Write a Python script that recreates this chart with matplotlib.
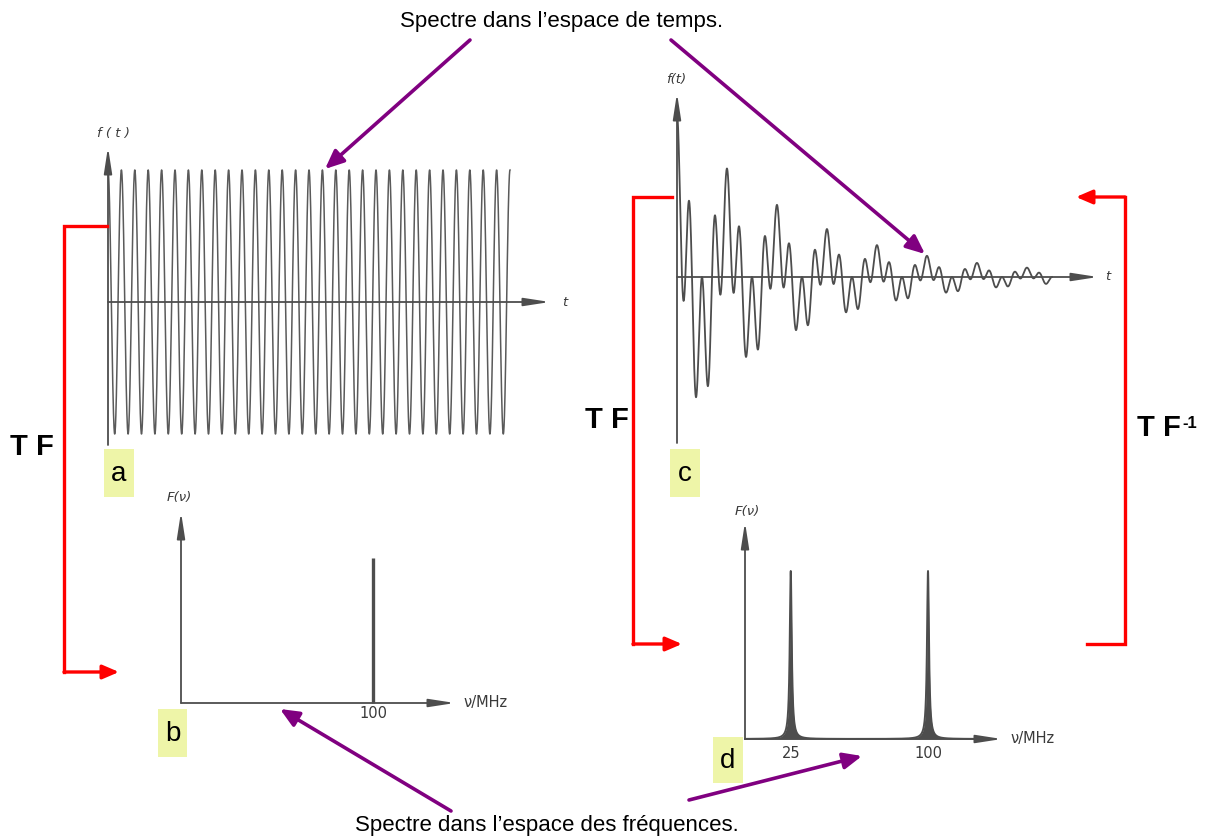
import numpy as np
import matplotlib

matplotlib.use("Agg")

from matplotlib import pyplot as plt
from matplotlib.patches import Rectangle

# --- data ------------------------------------------------------------------
time_span_us = 0.3                  # both time signals stop at ~0.3 us
freqs_a_mhz = [100]                 # panel a: single pure cosine
amps_a = [1.0]
freqs_c_mhz = [25, 100]             # panel c: two damped cosines
amps_c = [1.0, 1.0]
decay_c_us = 0.098                  # envelope time constant of panel c

lines_b_mhz = [100]                 # panel b: one sharp line
lines_b_height = [1.0]
lines_d_mhz = [25, 100]             # panel d: two narrow peaks
lines_d_height = [1.0, 1.0]
lines_d_fwhm_mhz = 1.3

ticks_b = [100]
ticks_d = [25, 100]

W, H = 1210, 839
GREY = "#4d4d4d"
RED = "#ff0000"
PURPLE = "#800080"
LABEL_BG = "#eef5a8"

plt.rcParams["font.family"] = ["Liberation Sans", "DejaVu Sans"]

fig = plt.figure(figsize=(W / 100, H / 100), dpi=100)
fig.patch.set_facecolor("white")


def px_axes(left, top, right, bottom):
    ax = fig.add_axes([left / W, 1 - bottom / H, (right - left) / W, (bottom - top) / H])
    ax.set_axis_off()
    return ax


def axis_arrow(ax, start, end):
    ax.annotate("", xy=end, xytext=start,
                arrowprops=dict(arrowstyle="-|>,head_length=1.3,head_width=0.2",
                                color=GREY, lw=1.3, shrinkA=0, shrinkB=0, mutation_scale=12))


def small(ax, x, y, s, **kw):
    kw.setdefault("color", "#3a3a3a")
    kw.setdefault("fontsize", 10.5)
    kw.setdefault("family", "DejaVu Sans")
    ax.text(x, y, s, **kw)


# --- panel a: continuous cosine ---------------------------------------------
ax_a = px_axes(98, 125, 575, 455)
px_us_a = 1340.0
px_unit_a = 132.0
ax_a.set_xlim((98 - 108) / px_us_a, (575 - 108) / px_us_a)
ax_a.set_ylim(-(455 - 302) / px_unit_a, (302 - 125) / px_unit_a)
t_a = np.linspace(0, time_span_us, 6000)
f_a = sum(a * np.cos(2 * np.pi * f * t_a) for f, a in zip(freqs_a_mhz, amps_a))
ax_a.plot(t_a, f_a, color="#5a5a5a", lw=1.1)
axis_arrow(ax_a, (0, -(445 - 302) / px_unit_a), (0, (302 - 147) / px_unit_a))
axis_arrow(ax_a, (0, 0), ((550 - 108) / px_us_a, 0))
small(ax_a, 0.004, (302 - 134) / px_unit_a, "f ( t )", style="italic", ha="center", va="center", fontsize=9.5)
small(ax_a, (565 - 108) / px_us_a, 0, "t", style="italic", ha="center", va="center", fontsize=9.5)

# --- panel c: damped two-frequency signal -----------------------------------
ax_c = px_axes(655, 70, 1118, 450)
px_us_c = 1250.0
px_unit_c = 81.6
ax_c.set_xlim((655 - 677) / px_us_c, (1118 - 677) / px_us_c)
ax_c.set_ylim(-(450 - 277) / px_unit_c, (277 - 70) / px_unit_c)
t_c = np.linspace(0, time_span_us, 6000)
f_c = np.exp(-t_c / decay_c_us) * sum(a * np.cos(2 * np.pi * f * t_c) for f, a in zip(freqs_c_mhz, amps_c))
ax_c.plot(t_c, f_c, color=GREY, lw=1.3)
axis_arrow(ax_c, (0, -(443 - 277) / px_unit_c), (0, (277 - 93) / px_unit_c))
axis_arrow(ax_c, (0, 0), ((1098 - 677) / px_us_c, 0))
small(ax_c, (676 - 677) / px_us_c, (277 - 80) / px_unit_c, "f(t)", style="italic", ha="center", va="center", fontsize=9.5)
small(ax_c, (1108 - 677) / px_us_c, 0, "t", style="italic", ha="center", va="center", fontsize=9.5)

# --- panel b: single line spectrum ------------------------------------------
ax_b = px_axes(160, 485, 520, 725)
px_mhz_b = 1.92
px_unit_b = 145.0
ax_b.set_xlim((160 - 181) / px_mhz_b, (520 - 181) / px_mhz_b)
ax_b.set_ylim(-(725 - 703) / px_unit_b, (703 - 485) / px_unit_b)
ax_b.vlines(lines_b_mhz, 0, lines_b_height, color=GREY, lw=2.4)
axis_arrow(ax_b, (0, 0), (0, (703 - 512) / px_unit_b))
axis_arrow(ax_b, (0, 0), ((455 - 181) / px_mhz_b, 0))
for tk in ticks_b:
    small(ax_b, tk, -(713 - 703) / px_unit_b, str(tk), ha="center", va="center")
small(ax_b, (463 - 181) / px_mhz_b, 0, "ν/MHz", ha="left", va="center")
small(ax_b, (179 - 181) / px_mhz_b, (703 - 498) / px_unit_b, "F(ν)", style="italic", ha="center", va="center", fontsize=9.5)

# --- panel d: two narrow peaks ----------------------------------------------
ax_d = px_axes(725, 495, 1070, 770)
px_mhz_d = 1.83
px_unit_d = 168.0
ax_d.set_xlim((725 - 745) / px_mhz_d, (1070 - 745) / px_mhz_d)
ax_d.set_ylim(-(770 - 739) / px_unit_d, (739 - 495) / px_unit_d)
nu = np.linspace(0, 130, 8000)
half = lines_d_fwhm_mhz / 2
spec_d = sum(h / (1 + ((nu - f0) / half) ** 2) for f0, h in zip(lines_d_mhz, lines_d_height))
ax_d.fill_between(nu, 0, spec_d, color=GREY, lw=0)
ax_d.plot(nu, spec_d, color=GREY, lw=1.4)
axis_arrow(ax_d, (0, 0), (0, (739 - 522) / px_unit_d))
axis_arrow(ax_d, (0, 0), ((1002 - 745) / px_mhz_d, 0))
for tk in ticks_d:
    small(ax_d, tk, -(754 - 739) / px_unit_d, str(tk), ha="center", va="center")
small(ax_d, (1010 - 745) / px_mhz_d, 0, "ν/MHz", ha="left", va="center")
small(ax_d, (747 - 745) / px_mhz_d, (739 - 512) / px_unit_d, "F(ν)", style="italic", ha="center", va="center", fontsize=9.5)

# --- overlay: brackets, arrows, captions ------------------------------------
ov = fig.add_axes([0, 0, 1, 1], zorder=10)
ov.set_xlim(0, W)
ov.set_ylim(H, 0)
ov.set_axis_off()
ov.patch.set_alpha(0)


def red_arrow(start, end):
    ov.annotate("", xy=end, xytext=start,
                arrowprops=dict(arrowstyle="-|>,head_length=0.7,head_width=0.3", color=RED,
                                lw=2.4, shrinkA=0, shrinkB=0, mutation_scale=14))


def purple_arrow(start, end):
    ov.annotate("", xy=end, xytext=start,
                arrowprops=dict(arrowstyle="-|>,head_length=0.8,head_width=0.35", color=PURPLE,
                                lw=2.6, shrinkA=0, shrinkB=0, mutation_scale=14))


ov.plot([107, 64, 64], [226, 226, 672], color=RED, lw=2.4, solid_joinstyle="miter")
red_arrow((64, 672), (119, 672))
ov.plot([672, 633, 633], [197, 197, 644], color=RED, lw=2.4, solid_joinstyle="miter")
red_arrow((633, 644), (682, 644))
ov.plot([1087, 1125, 1125], [644, 644, 197], color=RED, lw=2.4, solid_joinstyle="miter")
red_arrow((1125, 197), (1076, 197))

ov.text(32, 447, "T F", fontsize=21, fontweight="bold", ha="center", va="center")
ov.text(607, 420, "T F", fontsize=21, fontweight="bold", ha="center", va="center")
ov.text(1137, 428, "T F", fontsize=21, fontweight="bold", ha="left", va="center")
ov.text(1182, 416, "-1", fontsize=12, fontweight="bold", ha="left", va="top")

purple_arrow((470, 40), (325, 169))
purple_arrow((671, 40), (925, 254))
purple_arrow((451, 811), (280, 709))
purple_arrow((689, 800), (862, 756))

ov.text(562, 22, "Spectre dans l’espace de temps.", fontsize=16, ha="center", va="center")
ov.text(547, 825, "Spectre dans l’espace des fréquences.", fontsize=16, ha="center", va="center")

for letter, (x0, y0, x1, y1) in zip("abcd", [(104, 449, 134, 497), (158, 709, 187, 757),
                                            (670, 449, 700, 497), (713, 737, 743, 783)]):
    ov.add_patch(Rectangle((x0, y0), x1 - x0, y1 - y0, facecolor=LABEL_BG, edgecolor="none"))
    ov.text((x0 + x1) / 2, (y0 + y1) / 2 + 1, letter, fontsize=20, ha="center", va="center")

fig.savefig("out.png", dpi=100)
